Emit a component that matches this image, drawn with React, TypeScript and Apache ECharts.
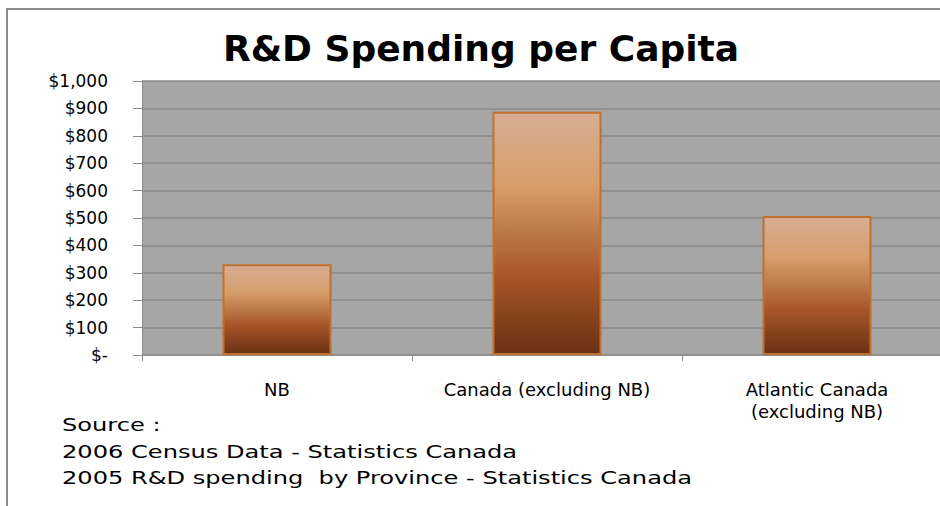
import React, { useEffect, useRef } from "react";
import * as echarts from "echarts";

const categories = ["NB", "Canada (excluding NB)", "Atlantic Canada\n(excluding NB)"];
const spending = [331, 888, 507];
const yTickValues = [0, 100, 200, 300, 400, 500, 600, 700, 800, 900, 1000];
const titleText = "R&D Spending per Capita";
const sourceLines = [
  "Source :",
  "2006 Census Data - Statistics Canada",
  "2005 R&D spending  by Province - Statistics Canada",
];

const FONT = "DejaVu Sans";

export default function App() {
  const ref = useRef<HTMLDivElement>(null);
  useEffect(() => {
    document.body.style.margin = "0";
    const chart = echarts.init(ref.current!, null, { renderer: "svg" });
    const barGradient = new echarts.graphic.LinearGradient(0, 0, 0, 1, [
      { offset: 0, color: "#D8AD93" },
      { offset: 0.3, color: "#D69E6B" },
      { offset: 0.68, color: "#A75528" },
      { offset: 1, color: "#6A3113" },
    ]);
    chart.setOption({
      animation: false,
      backgroundColor: "#ffffff",
      title: {
        text: titleText,
        left: 476,
        top: 25,
        textAlign: "center",
        textStyle: { fontFamily: FONT, fontWeight: "bold", fontSize: 36, color: "#000" },
      },
      grid: { left: 142, top: 81, width: 810, height: 274, backgroundColor: "#A6A6A6", show: true, borderWidth: 0 },
      xAxis: {
        type: "category",
        data: categories,
        axisLine: { show: true, lineStyle: { color: "#8C8C8C", width: 1 } },
        axisTick: { show: true, length: 6, lineStyle: { color: "#8C8C8C" } },
        axisLabel: {
          fontFamily: FONT,
          fontSize: 18,
          color: "#000",
          margin: 23,
          lineHeight: 22,
          interval: 0,
        },
      },
      yAxis: {
        type: "value",
        min: 0,
        max: 1000,
        interval: 100,
        axisLine: { show: true, lineStyle: { color: "#8C8C8C", width: 1 } },
        axisTick: { show: true, length: 9, lineStyle: { color: "#8C8C8C" } },
        splitLine: { show: true, lineStyle: { color: "#8A8A8A", width: 1.5 } },
        axisLabel: {
          fontFamily: FONT,
          fontSize: 17,
          color: "#000",
          margin: 34,
          formatter: (v: number) =>
            yTickValues.indexOf(v) >= 0 ? (v === 0 ? "$-" : "$" + v.toLocaleString("en-US")) : "",
        },
      },
      series: [
        {
          type: "bar",
          data: spending,
          barWidth: 109,
          itemStyle: { color: barGradient, borderColor: "#C0712F", borderWidth: 2 },
        },
      ],
      graphic: [
        { type: "line", shape: { x1: 7, y1: 8, x2: 7, y2: 506 }, style: { stroke: "#8C8C8C", lineWidth: 2 } },
        { type: "line", shape: { x1: 6, y1: 9, x2: 952, y2: 9 }, style: { stroke: "#8C8C8C", lineWidth: 2 } },
        ...sourceLines.map((t, i) => ({
          type: "text",
          x: 62,
          y: 416 + i * 26.5,
          scaleX: 1.34,
          style: { text: t, fontFamily: FONT, fontSize: 18, fill: "#000" },
        })),
      ],
    });
    return () => chart.dispose();
  }, []);
  return (
    <div style={{ width: 940, height: 506, overflow: "hidden", position: "relative" }}>
      <div ref={ref} style={{ width: 952, height: 506 }} />
    </div>
  );
}
